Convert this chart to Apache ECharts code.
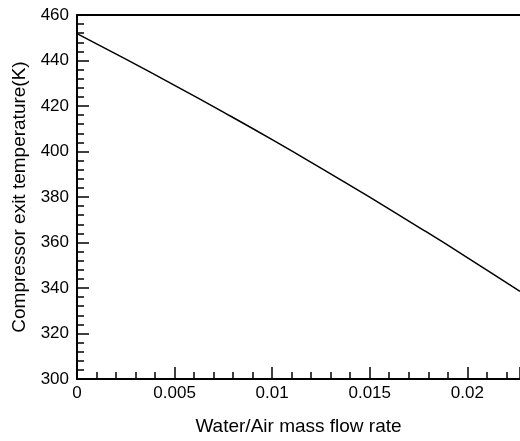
<!DOCTYPE html>
<html><head><meta charset="utf-8">
<script src="https://cdn.jsdelivr.net/npm/echarts@6/dist/echarts.min.js"></script>
<style>html,body{margin:0;padding:0;background:#fff}#c{width:520px;height:441px}</style>
</head><body><div id="c"></div>
<script>
const ratio = [0, 0.0025, 0.005, 0.0075, 0.01, 0.0125, 0.015, 0.0175, 0.02, 0.0227];
const temperature = [451.8, 440.6, 429.1, 417.3, 405.2, 392.7, 379.9, 366.8, 353.4, 338.5];
const xTitle = 'Water/Air mass flow rate';
const yTitle = 'Compressor exit temperature(K)';

const font = 'Liberation Sans, Arial, sans-serif';
const chart = echarts.init(document.getElementById('c'));
chart.setOption({
  animation: false,
  grid: {left: 77, right: 0, top: 15, bottom: 59},
  xAxis: [{
    type: 'value', min: 0, max: 0.0227, interval: 0.005,
    name: xTitle, nameLocation: 'middle', nameGap: 38,
    nameTextStyle: {fontFamily: font, fontSize: 19, color: '#000'},
    axisLine: {show: true, lineStyle: {color: '#000', width: 2}},
    axisTick: {show: true, inside: true, length: 12, lineStyle: {color: '#000', width: 1.5}},
    minorTick: {show: true, splitNumber: 5, length: 7, lineStyle: {color: '#000', width: 1.5}},
    axisLabel: {fontFamily: font, fontSize: 17, color: '#000', margin: 6, showMaxLabel: false,
      formatter: v => String(+v.toFixed(4))},
    splitLine: {show: false}
  }, {
    type: 'value', min: 0, max: 0.0227, position: 'top',
    axisLine: {show: true, lineStyle: {color: '#000', width: 2}},
    axisTick: {show: false}, axisLabel: {show: false}, splitLine: {show: false}
  }],
  yAxis: {
    type: 'value', min: 300, max: 460, interval: 20,
    name: yTitle, nameLocation: 'middle', nameGap: 48,
    nameTextStyle: {fontFamily: font, fontSize: 19, color: '#000'},
    axisLine: {show: true, lineStyle: {color: '#000', width: 2}},
    axisTick: {show: true, inside: true, length: 12, lineStyle: {color: '#000', width: 1.5}},
    minorTick: {show: true, splitNumber: 5, length: 7, lineStyle: {color: '#000', width: 1.5}},
    axisLabel: {fontFamily: font, fontSize: 17, color: '#000', margin: 8},
    splitLine: {show: false}
  },
  series: [{
    type: 'line', data: ratio.map((x, i) => [x, temperature[i]]),
    showSymbol: false, smooth: true, lineStyle: {color: '#000', width: 1.5}
  }]
});
</script></body></html>
